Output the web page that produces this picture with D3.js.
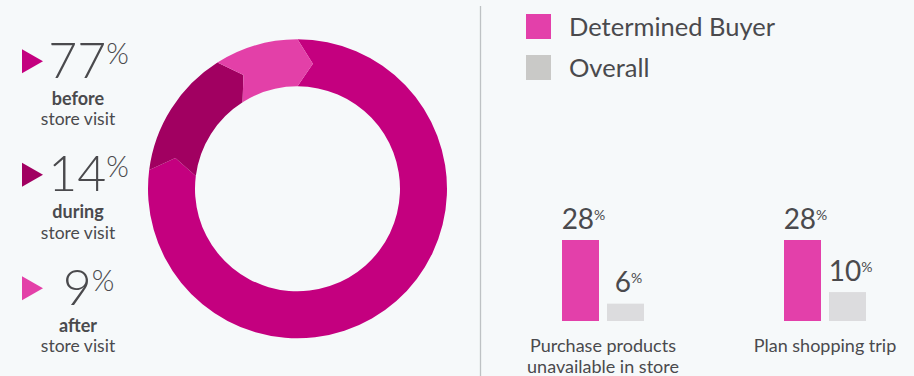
<!DOCTYPE html>
<html>
<head>
<meta charset="utf-8">
<script src="https://cdn.jsdelivr.net/npm/d3@7"></script>
<style>
  html, body { margin: 0; padding: 0; background: #F6F9FA; }
  svg { display: block; font-family: Lato, "Open Sans", sans-serif; }
</style>
</head>
<body>
<svg id="chart" width="914" height="376"></svg>
<script>
// Share of shoppers by timing relative to the store visit
const timingKeys = ["before", "during", "after"];
const timingShares = [77, 14, 9];
const timingColors = ["#C4007F", "#A10061", "#E340A8"];

// Reasons compared across shopper groups
const categories = ["Purchase products|unavailable in store", "Plan shopping trip"];
const seriesNames = ["Determined Buyer", "Overall"];
const determinedValues = [28, 28];
const overallValues = [6, 10];
const seriesColors = ["#E340AA", "#DCDCDE"];
const legendColors = ["#E340AA", "#C9C9C7"];

const textColor = "#4A4A4D";
const svg = d3.select("#chart");

// ---------- Donut with chevron joints ----------
const cx = 297.5, cy = 188.8, rOuter = 149.5, rInner = 102.5;
const rMid = (rOuter + rInner) / 2;
const tipAngle = 7 * Math.PI / 180;
const pie = d3.pie().sort(null).value(d => d)(timingShares);
const pt = (a, r) => [cx + r * Math.sin(a), cy - r * Math.cos(a)];

const segPath = d => {
  const p = d3.path();
  const a0 = d.startAngle, a1 = d.endAngle;
  const o0 = pt(a0, rOuter);
  p.moveTo(o0[0], o0[1]);
  p.arc(cx, cy, rOuter, a0 - Math.PI / 2, a1 - Math.PI / 2, false);
  const tip = pt(a1 + tipAngle, rMid);
  p.lineTo(tip[0], tip[1]);
  const i1 = pt(a1, rInner);
  p.lineTo(i1[0], i1[1]);
  p.arc(cx, cy, rInner, a1 - Math.PI / 2, a0 - Math.PI / 2, true);
  const notch = pt(a0 + tipAngle, rMid);
  p.lineTo(notch[0], notch[1]);
  p.closePath();
  return p.toString();
};

svg.append("g").selectAll("path")
  .data(pie)
  .join("path")
  .attr("d", segPath)
  .attr("fill", (d, i) => timingColors[i]);

// ---------- Left-hand key ----------
const keyY = d3.scaleLinear().domain([0, 2]).range([77.8, 304.8]);
const key = svg.append("g").selectAll("g")
  .data(timingShares)
  .join("g")
  .attr("transform", (d, i) => `translate(0,${keyY(i)})`);

key.append("path")
  .attr("d", "M22,-28.5 L43,-16.5 L22,-4.5 Z")
  .attr("fill", (d, i) => timingColors[i]);

const num = key.append("text")
  .attr("x", 88.5)
  .attr("text-anchor", "middle")
  .attr("fill", textColor)
  .style("font-weight", 300);
num.append("tspan").attr("font-size", 50).text(d => d);
num.append("tspan").attr("font-size", 29).attr("dy", -14).text("%");

key.append("text")
  .attr("x", 78).attr("y", 27)
  .attr("text-anchor", "middle")
  .attr("fill", textColor)
  .attr("font-size", 18)
  .style("font-weight", 700)
  .text((d, i) => timingKeys[i]);

key.append("text")
  .attr("x", 78).attr("y", 47.5)
  .attr("text-anchor", "middle")
  .attr("fill", textColor)
  .attr("font-size", 17.5)
  .text("store visit");

// ---------- Divider ----------
svg.append("line")
  .attr("x1", 480.5).attr("x2", 480.5)
  .attr("y1", 6).attr("y2", 376)
  .attr("stroke", "#BEC2C4").attr("stroke-width", 1.3);

// ---------- Legend ----------
const legend = svg.append("g").selectAll("g")
  .data(seriesNames)
  .join("g")
  .attr("transform", (d, i) => `translate(526,${14 + i * 41})`);
legend.append("rect")
  .attr("width", 25).attr("height", 25)
  .attr("fill", (d, i) => legendColors[i]);
legend.append("text")
  .attr("x", 43).attr("y", 22)
  .attr("font-size", 25.5)
  .attr("fill", textColor)
  .text(d => d);

// ---------- Grouped bars ----------
const x0 = d3.scaleBand().domain(categories).range([492, 936]);
const x1 = d3.scaleBand().domain(seriesNames)
  .range([70, 152]).paddingInner(0.178);
const y = d3.scaleLinear().domain([0, 28]).range([321, 240]);

const rows = categories.map((c, i) => ({
  cat: c,
  vals: [
    { s: seriesNames[0], v: determinedValues[i], c: seriesColors[0] },
    { s: seriesNames[1], v: overallValues[i], c: seriesColors[1] }
  ]
}));

const grp = svg.append("g").selectAll("g")
  .data(rows)
  .join("g")
  .attr("transform", d => `translate(${x0(d.cat)},0)`);

grp.selectAll("rect")
  .data(d => d.vals)
  .join("rect")
  .attr("x", d => x1(d.s))
  .attr("y", d => y(d.v))
  .attr("width", x1.bandwidth())
  .attr("height", d => y(0) - y(d.v))
  .attr("fill", d => d.c);

const vl = grp.selectAll("text.val")
  .data(d => d.vals)
  .join("text")
  .attr("class", "val")
  .attr("x", d => x1(d.s) + x1.bandwidth() / 2 + 3)
  .attr("y", d => y(d.v) - 11.5)
  .attr("text-anchor", "middle")
  .attr("fill", textColor);
vl.append("tspan").attr("font-size", 28).text(d => d.v);
vl.append("tspan").attr("font-size", 14).attr("dy", -9).text("%");

grp.append("text")
  .attr("x", x0.bandwidth() / 2)
  .attr("text-anchor", "middle")
  .attr("fill", textColor)
  .attr("font-size", 18)
  .selectAll("tspan")
  .data(d => d.cat.split("|"))
  .join("tspan")
  .attr("x", x0.bandwidth() / 2)
  .attr("y", (d, i) => 352 + i * 21)
  .text(d => d);
</script>
</body>
</html>
